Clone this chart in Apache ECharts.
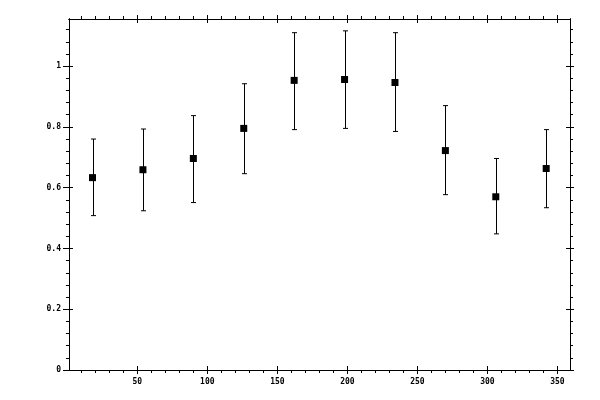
<!DOCTYPE html>
<html>
<head>
<meta charset="utf-8">
<script src="https://cdn.jsdelivr.net/npm/echarts@6/dist/echarts.min.js"></script>
<style>
  html, body { margin: 0; padding: 0; background: #fff; }
  #chart { width: 600px; height: 400px; }
</style>
</head>
<body>
<div id="chart"></div>
<script type="text/javascript">
    // points
    var xVals = [18, 54, 90, 126, 162, 198, 234, 270, 306, 342];
    var yVals = [0.633, 0.659, 0.696, 0.795, 0.953, 0.956, 0.946, 0.722, 0.570, 0.663];
    var yHigh = [0.760, 0.793, 0.837, 0.942, 1.110, 1.116, 1.110, 0.870, 0.696, 0.791];
    var yLow  = [0.508, 0.524, 0.551, 0.646, 0.791, 0.795, 0.785, 0.577, 0.448, 0.534];

    // tick positions
    var xMajor = [50, 100, 150, 200, 250, 300, 350];
    var xMinor = [10, 20, 30, 40, 60, 70, 80, 90, 110, 120, 130, 140, 160, 170, 180, 190,
                  210, 220, 230, 240, 260, 270, 280, 290, 310, 320, 330, 340];
    var yMajor = [0, 0.2, 0.4, 0.6, 0.8, 1];
    var yMinor = [0.04, 0.08, 0.12, 0.16, 0.24, 0.28, 0.32, 0.36, 0.44, 0.48, 0.52, 0.56,
                  0.64, 0.68, 0.72, 0.76, 0.84, 0.88, 0.92, 0.96, 1.04, 1.08, 1.12];

    var X_MIN = 1.2, X_MAX = 359, Y_MIN = 0, Y_MAX = 1.155;

    var labelFont = {
        color: '#000',
        fontFamily: 'DejaVu Sans Mono',
        fontSize: 8,
        fontWeight: 'bold',
        margin: 8
    };

    // one axis per tick style (outer major, inner major, outer minor), per side
    var makeAxis = function(type, pos, ticks, inside, len, withLabels) {
        var a = {
            type: 'value',
            position: pos,
            min: type === 'x' ? X_MIN : Y_MIN,
            max: type === 'x' ? X_MAX : Y_MAX,
            splitLine: {show: false},
            axisLine: {show: true, onZero: false, lineStyle: {color: '#000', width: 1}},
            axisTick: {
                show: true,
                inside: inside,
                length: len,
                customValues: ticks,
                lineStyle: {color: '#000', width: 1}
            },
            axisLabel: {show: false}
        };
        if (withLabels) {
            a.axisLabel = Object.assign({show: true, customValues: ticks}, labelFont);
        }
        return a;
    };

    var xAxes = [
        makeAxis('x', 'bottom', xMajor, false, 4, true),
        makeAxis('x', 'bottom', xMajor, true, 4, false),
        makeAxis('x', 'bottom', xMinor, false, 3, false),
        makeAxis('x', 'top', xMajor, false, 4, false),
        makeAxis('x', 'top', xMajor, true, 4, false),
        makeAxis('x', 'top', xMinor, false, 3, false)
    ];
    var yAxes = [
        makeAxis('y', 'left', yMajor, false, 6, true),
        makeAxis('y', 'left', yMajor, true, 4, false),
        makeAxis('y', 'left', yMinor, false, 3, false),
        makeAxis('y', 'right', yMajor, false, 4, false),
        makeAxis('y', 'right', yMajor, true, 4, false),
        makeAxis('y', 'right', yMinor, false, 3, false)
    ];

    var points = [];
    var bars = [];
    for (var i = 0; i < xVals.length; i++) {
        points.push([xVals[i], yVals[i]]);
        bars.push([xVals[i], yLow[i], yHigh[i]]);
    }

    var chart = echarts.init(document.getElementById('chart'), null, {renderer: 'canvas'});
    chart.setOption({
        animation: false,
        backgroundColor: '#fff',
        grid: {left: 69, top: 19, right: 30, bottom: 30, containLabel: false},
        xAxis: xAxes,
        yAxis: yAxes,
        series: [{
            type: 'custom',
            xAxisIndex: 0,
            yAxisIndex: 0,
            data: bars,
            encode: {x: 0, y: [1, 2]},
            renderItem: function(params, api) {
                var lo = api.coord([api.value(0), api.value(1)]);
                var hi = api.coord([api.value(0), api.value(2)]);
                var cx = Math.round(lo[0]) + 0.5;
                var style = {stroke: '#000', lineWidth: 1};
                return {
                    type: 'group',
                    children: [
                        {type: 'line', shape: {x1: cx, y1: hi[1], x2: cx, y2: lo[1]}, style: style},
                        {type: 'line', shape: {x1: cx - 2.5, y1: hi[1], x2: cx + 2.5, y2: hi[1]}, style: style},
                        {type: 'line', shape: {x1: cx - 2.5, y1: lo[1], x2: cx + 2.5, y2: lo[1]}, style: style}
                    ]
                };
            }
        }, {
            type: 'scatter',
            xAxisIndex: 0,
            yAxisIndex: 0,
            symbol: 'rect',
            symbolSize: 7,
            itemStyle: {color: '#000', opacity: 1},
            data: points
        }]
    });
</script>
</body>
</html>
